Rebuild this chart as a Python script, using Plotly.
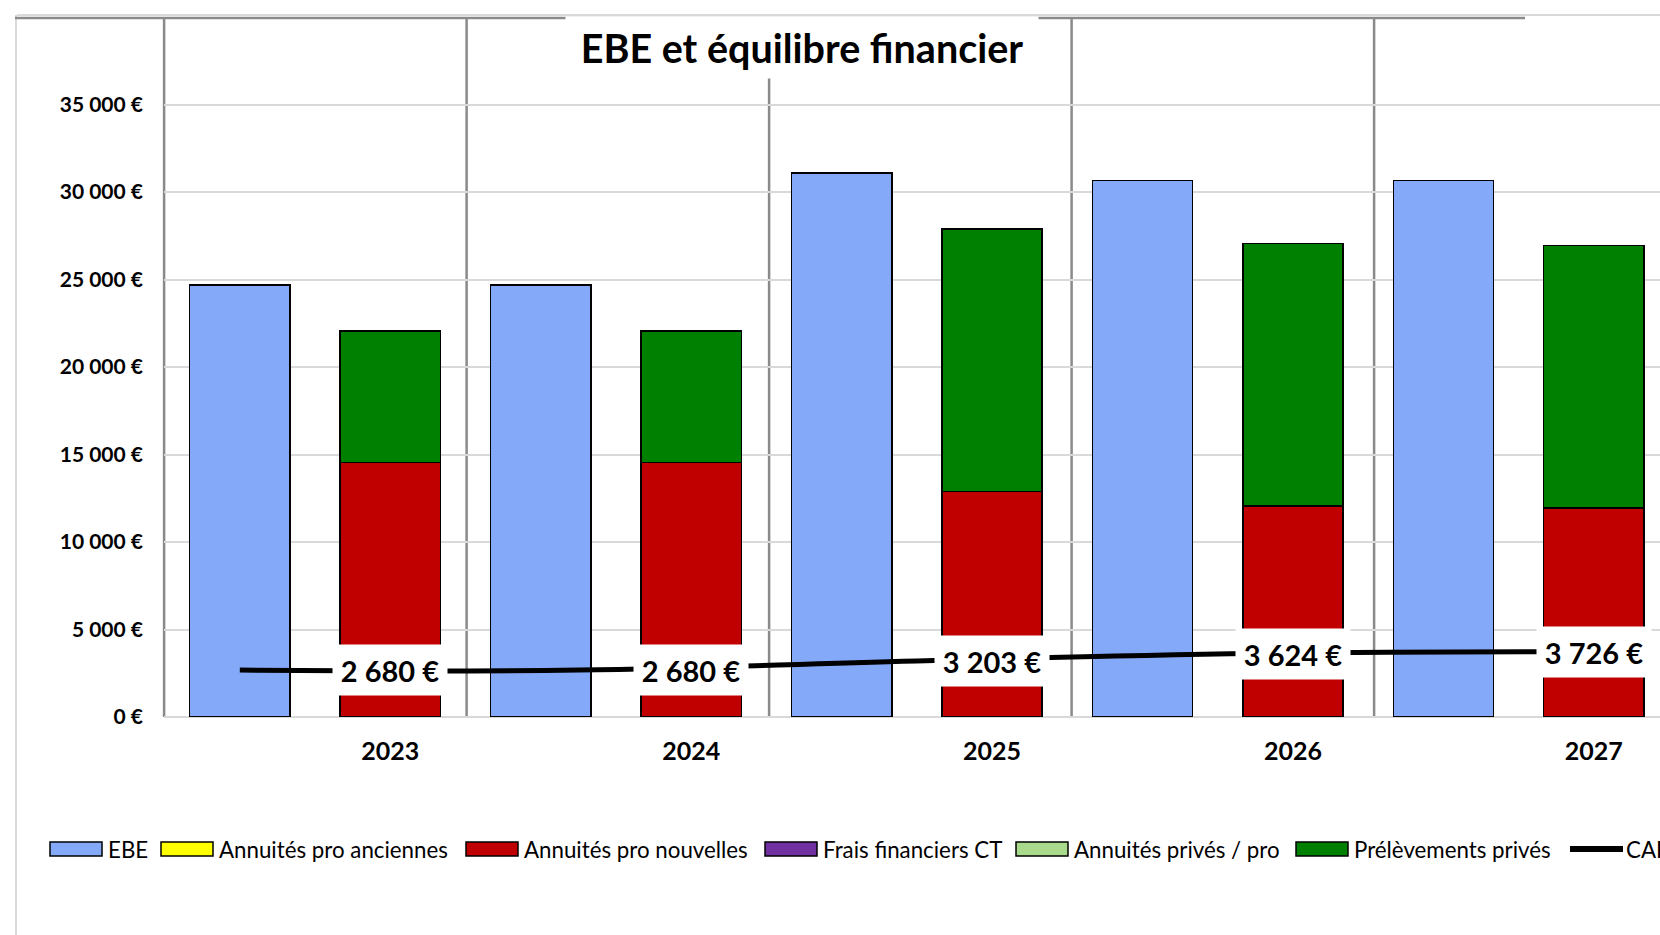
import plotly.graph_objects as go

# ---------------- data ----------------
years = ["2023", "2024", "2025", "2026", "2027"]
ebe = [24700, 24700, 31100, 30650, 30650]
annuites_pro_anciennes = [0, 0, 0, 0, 0]
annuites_pro_nouvelles = [14550, 14550, 12900, 12050, 11950]
frais_financiers_ct = [0, 0, 0, 0, 0]
annuites_prives_pro = [0, 0, 0, 0, 0]
prelevements_prives = [7500, 7500, 15000, 15000, 15000]
caf = [2680, 2680, 3203, 3624, 3726]
y_tick_vals = [0, 5000, 10000, 15000, 20000, 25000, 30000, 35000]
y_tick_text = ["0 €", "5 000 €", "10 000 €", "15 000 €", "20 000 €", "25 000 €", "30 000 €", "35 000 €"]

# ---------------- style ----------------
C_EBE = "#84A9F9"
C_YEL = "#FFFF00"
C_RED = "#C00000"
C_PUR = "#7030A0"
C_LGR = "#A9D98B"
C_GRN = "#008000"
GRID = "#D9D9D9"
DARK = "#8A8A8A"
FONT = "Lato"

W, H = 1660, 935
PL, PR, PT, PB = 164, 1660, 18, 717
def px(x):
    return (x - PL) / (PR - PL)
def py(y):
    return (PB - y) / (PB - PT)

CAT_W = 300.9          # pixel width of one category for the bars
X0_PX = 164.6          # pixel of x = -0.5
x_start = -0.5 - (X0_PX - PL) / CAT_W
x_end = x_start + (PR - PL) / CAT_W

idx = list(range(len(years)))
x_ebe = [i - 0.25 for i in idx]
x_stack = [i + 0.25 for i in idx]
BW = 1 / 3
outline = dict(color="black", width=1.5)

fig = go.Figure()
fig.add_trace(go.Bar(name="EBE", x=x_ebe, y=ebe, width=BW,
                     marker=dict(color=C_EBE, line=outline)))
stack_series = [
    ("Annuités pro anciennes", annuites_pro_anciennes, C_YEL),
    ("Annuités pro nouvelles", annuites_pro_nouvelles, C_RED),
    ("Frais financiers CT", frais_financiers_ct, C_PUR),
    ("Annuités privés / pro", annuites_prives_pro, C_LGR),
    ("Prélèvements privés", prelevements_prives, C_GRN),
]
for name, vals, col in stack_series:
    fig.add_trace(go.Bar(name=name, x=x_stack, y=vals, width=BW,
                         marker=dict(color=col, line=outline)))

fig.add_trace(go.Scatter(name="CAF", x=years, y=caf, xaxis="x2", mode="lines",
                         line=dict(color="black", width=5, shape="spline", smoothing=1.2)))

# CAF data labels (white boxes)
annotations = []
for i, v in enumerate(caf):
    annotations.append(dict(
        x=x_stack[i], y=v, xref="x", yref="y", showarrow=False,
        text=f"{v:,} €".replace(",", " "), bgcolor="white",
        width=112, height=48, xanchor="center", yanchor="middle",
        font=dict(family=FONT, size=29, color="black", weight="bold")))

# Title with white box
annotations.append(dict(
    x=px(802), y=py(47.5), xref="paper", yref="paper", showarrow=False,
    text="EBE et équilibre financier", bgcolor="white", width=470, height=59,
    xanchor="center", yanchor="middle",
    font=dict(family=FONT, size=39.5, color="black", weight="bold")))

shapes = []
# category separator lines
for i in idx:
    lx = 164.1 + i * 302.5
    shapes.append(dict(type="line", xref="paper", yref="paper", x0=px(lx), x1=px(lx),
                       y0=0, y1=1, line=dict(color=DARK, width=2.5), layer="below"))
# plot top border & chart border
shapes.append(dict(type="line", xref="paper", yref="paper", x0=px(15), x1=px(1525),
                   y0=py(18), y1=py(18), line=dict(color=DARK, width=2.5), layer="above"))
shapes.append(dict(type="line", xref="paper", yref="paper", x0=px(17), x1=px(1660),
                   y0=py(15), y1=py(15), line=dict(color=GRID, width=2), layer="below"))
shapes.append(dict(type="line", xref="paper", yref="paper", x0=px(16), x1=px(16),
                   y0=py(15), y1=py(935), line=dict(color=GRID, width=2), layer="below"))

# custom legend
leg_items = [("EBE", C_EBE, 50), ("Annuités pro anciennes", C_YEL, 161),
             ("Annuités pro nouvelles", C_RED, 466), ("Frais financiers CT", C_PUR, 765),
             ("Annuités privés / pro", C_LGR, 1016), ("Prélèvements privés", C_GRN, 1296)]
LY = 849
for name, col, lx in leg_items:
    shapes.append(dict(type="rect", xref="paper", yref="paper",
                       x0=px(lx), x1=px(lx + 52), y0=py(LY - 7), y1=py(LY + 7),
                       fillcolor=col, line=dict(color="black", width=1.5), layer="above"))
    annotations.append(dict(x=px(lx + 56), y=py(LY), xref="paper", yref="paper",
                            showarrow=False, text=name, xanchor="left", yanchor="middle",
                            font=dict(family=FONT, size=22.3, color="black")))
shapes.append(dict(type="line", xref="paper", yref="paper", x0=px(1570), x1=px(1623),
                   y0=py(LY), y1=py(LY), line=dict(color="black", width=6), layer="above"))
annotations.append(dict(x=px(1624), y=py(LY), xref="paper", yref="paper",
                        showarrow=False, text="CAF", xanchor="left", yanchor="middle",
                        font=dict(family=FONT, size=22.3, color="black")))

fig.update_layout(
    width=W, height=H,
    margin=dict(l=PL, r=W - PR, t=PT, b=H - PB, pad=0),
    paper_bgcolor="white", plot_bgcolor="white",
    barmode="stack", showlegend=False,
    xaxis=dict(range=[x_start, x_end], tickvals=x_stack, ticktext=years,
               showgrid=False, zeroline=False, showline=False, ticks="",
               ticklabelstandoff=17,
               tickfont=dict(family=FONT, size=25, color="black", weight="bold")),
    xaxis2=dict(overlaying="x", type="category", visible=False,
                range=[(x_start + 0.25) / 1.125, (x_end + 0.25) / 1.125]),
    yaxis=dict(range=[0, 39950], tickvals=y_tick_vals, ticktext=y_tick_text,
               showgrid=True, gridcolor=GRID, gridwidth=2, zeroline=True,
               zerolinecolor=GRID, zerolinewidth=2, showline=False, ticks="",
               ticklabelstandoff=20,
               tickfont=dict(family=FONT, size=21, color="black", weight="bold")),
    annotations=annotations, shapes=shapes,
)

fig.write_html("out.html", config={"displayModeBar": False},
               post_script="document.body.style.margin='0';document.body.style.overflow='hidden';")
